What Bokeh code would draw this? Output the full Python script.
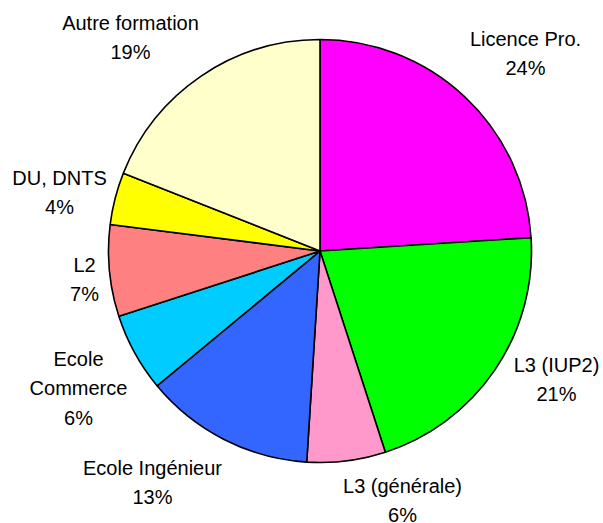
import math
from bokeh.plotting import figure
from bokeh.models import Range1d, ColumnDataSource
from bokeh.core.properties import value
from bokeh.embed import file_html
from bokeh.resources import INLINE

# ---- data ----
categories = ["Licence Pro.", "L3 (IUP2)", "L3 (générale)", "Ecole Ingénieur",
              "Ecole\nCommerce", "L2", "DU, DNTS", "Autre formation"]
values = [24, 21, 6, 13, 6, 7, 4, 19]
colors = ["#FF00FF", "#00FF00", "#FF99CC", "#3366FF",
          "#00CCFF", "#FF8080", "#FFFF00", "#FFFFCC"]

# ---- layout (pixel coordinates of the picture) ----
W, H = 603, 523
cx_px, cy_px, R = 319.5, 250.5, 211.5
# centre of first label line for each category (picture pixels)
label_pos = [(525, 38), (556, 364), (402, 485), (152, 467),
             (78, 358), (84, 264), (59, 177), (130, 22)]
line_gap = 29.5

def to_y(py):
    return H - py

p = figure(width=W, height=H, output_backend="svg", toolbar_location=None,
           x_range=Range1d(0, W), y_range=Range1d(0, H),
           x_axis_type=None, y_axis_type=None, min_border=0)
p.outline_line_color = None
p.xgrid.visible = False
p.ygrid.visible = False

total = float(sum(values))
starts, ends = [], []
cum = 0.0
for v in values:
    a0 = math.pi / 2 - 2 * math.pi * cum / total
    cum += v
    a1 = math.pi / 2 - 2 * math.pi * cum / total
    starts.append(a1)
    ends.append(a0)

src = ColumnDataSource(dict(start=starts, end=ends, color=colors))
p.wedge(x=cx_px, y=to_y(cy_px), radius=R, start_angle="start", end_angle="end",
        direction="anticlock", fill_color="color", line_color="black",
        line_width=1.6, source=src)

tx, ty, tt = [], [], []
for cat, v, (lx, ly) in zip(categories, values, label_pos):
    lines = cat.split("\n") + [f"{v}%"]
    for i, ln in enumerate(lines):
        tx.append(lx)
        ty.append(to_y(ly + i * line_gap))
        tt.append(ln)

p.text(x=tx, y=ty, text=tt, text_align="center", text_baseline="middle",
       text_font=value("Liberation Sans"), text_font_size="20px",
       text_color="black")

open("out.html", "w").write(file_html(p, INLINE))
